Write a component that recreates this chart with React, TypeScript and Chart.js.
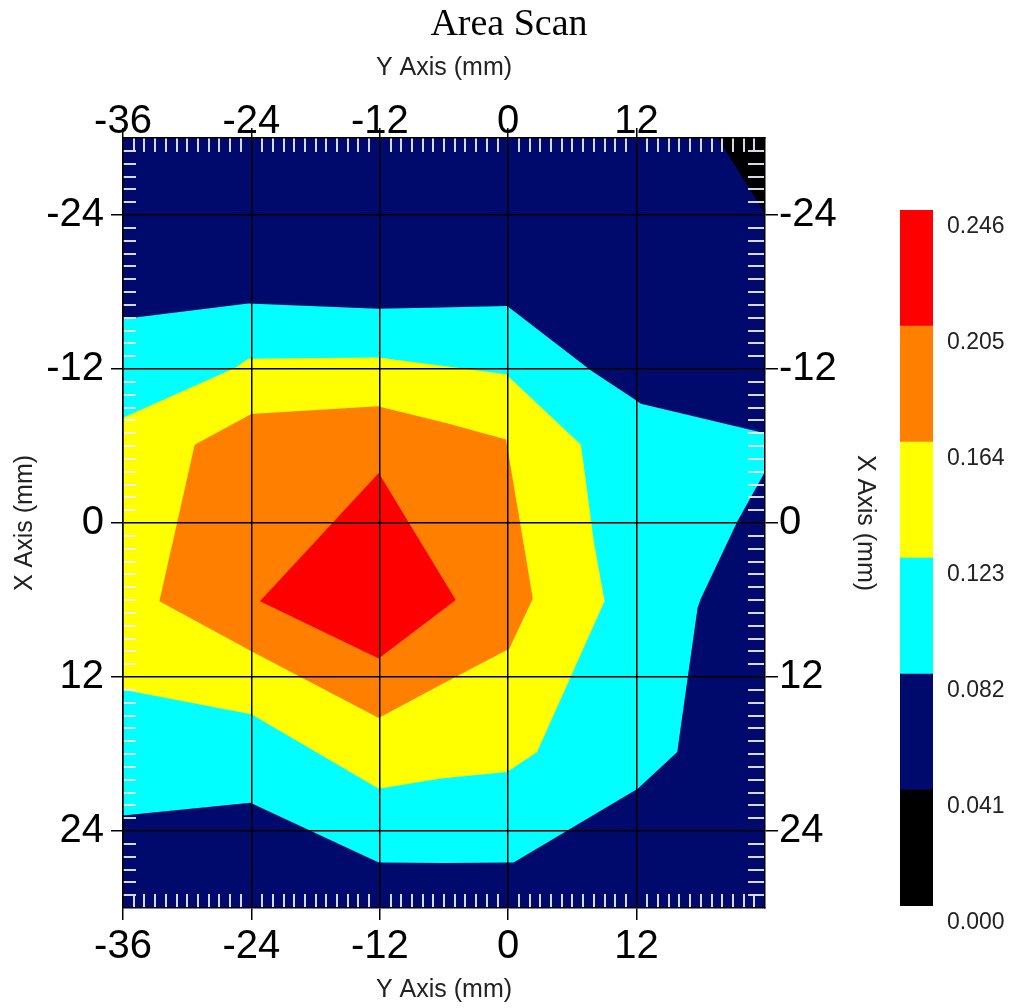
import React, { useEffect, useRef } from 'react';
import { Chart, registerables } from 'chart.js';

Chart.register(...registerables);

// ---- axis ranges & tick labels ----
const xRange = [-36, 24];
const yRange = [-30, 30];
const xTickValues = [-36, -24, -12, 0, 12];
const yTickValues = [-24, -12, 0, 12, 24];

// ---- contour bands (outer boundary of each level region), [Y Axis mm, X Axis mm] ----
const plotFrame: [number, number][] = [[-36, -30], [24, -30], [24, 30], [-36, 30]];
const blackBand: [number, number][] = [[19.6, -30], [24, -30], [24, -24.1]];
const cyanBand: [number, number][] = [
  [-36, -15.9], [-24.3, -17.1], [-12.2, -16.7], [-6.3, -16.8], [-0.1, -16.9],
  [7.7, -11.9], [11.8, -9.65], [12.4, -9.3], [24, -7.0], [24, -4.0],
  [21.4, -0.1], [18.0, 5.9], [17.7, 6.6], [16.8, 11.9], [15.8, 17.85],
  [12.1, 20.7], [0.5, 26.45], [-6, 26.5], [-12.1, 26.45], [-24.1, 21.8], [-36, 22.8],
];
const yellowBand: [number, number][] = [
  [-36, -8.2], [-25.5, -12.1], [-24.3, -12.8], [-12.2, -12.9], [-6.2, -12.25],
  [-0.2, -11.6], [6.8, -6.1], [8.0, 1.4], [9.0, 6.1], [2.7, 17.85],
  [-0.1, 19.4], [-6.3, 19.9], [-12.1, 20.7], [-24, 14.9], [-36, 13.0],
];
const orangeBand: [number, number][] = [
  [-29.3, -6.1], [-24, -8.5], [-12.2, -9.1], [-5.8, -7.8], [-0.2, -6.5],
  [1.4, 1.4], [2.3, 5.9], [0.1, 9.8], [-6.3, 12.6], [-12.1, 15.2],
  [-24, 10.0], [-32.6, 6.1],
];
const redBand: [number, number][] = [[-12.1, -3.9], [-4.9, 6.0], [-12.1, 10.55], [-23.2, 6.1]];

// ---- colour scale ----
const levels = [0.0, 0.041, 0.082, 0.123, 0.164, 0.205, 0.246];
const levelColors = ['#000000', '#000A6C', '#00FFFF', '#FFFF00', '#FF8000', '#FF0000'];

const SANS = "'Liberation Sans', Arial, sans-serif";
const SERIF = "'Liberation Serif', 'Times New Roman', serif";

const minorTicks = {
  id: 'minorTicks',
  afterDatasetsDraw(chart: any) {
    const { ctx, chartArea: a, scales } = chart;
    const xs = scales.x;
    const ys = scales.y;
    ctx.save();
    ctx.strokeStyle = 'rgba(240,240,255,0.9)';
    ctx.lineWidth = 2;
    ctx.beginPath();
    for (let v = xRange[0] + 1; v < xRange[1]; v++) {
      if (v % 12 === 0) continue;
      const px = Math.round(xs.getPixelForValue(v));
      ctx.moveTo(px, a.top);
      ctx.lineTo(px, a.top + 14);
      ctx.moveTo(px, a.bottom);
      ctx.lineTo(px, a.bottom - 14);
    }
    for (let v = yRange[0] + 1; v < yRange[1]; v++) {
      if (v % 12 === 0) continue;
      const py = Math.round(ys.getPixelForValue(v));
      ctx.moveTo(a.left, py);
      ctx.lineTo(a.left + 13, py);
      ctx.moveTo(a.right, py);
      ctx.lineTo(a.right - 17, py);
    }
    ctx.stroke();
    ctx.restore();
  },
};

const band = (pts: [number, number][], color: string, order: number) => ({
  data: pts.map(([x, y]) => ({ x, y })),
  showLine: true,
  fill: 'shape',
  backgroundColor: color,
  borderWidth: 0,
  borderColor: 'rgba(0,0,0,0)',
  pointRadius: 0,
  tension: 0,
  order,
});

const tickFont = { family: SANS, size: 40 };
const axisTitleFont = { family: SANS, size: 25 };

const gridCommon = { color: '#000', lineWidth: 1.5, z: 1, tickColor: '#000', tickWidth: 1.5 };
const borderCommon = { color: '#000', width: 1.5, z: 1 };

export default function App() {
  const mainRef = useRef<HTMLCanvasElement>(null);
  const cbRef = useRef<HTMLCanvasElement>(null);

  useEffect(() => {
    const setX = (s: any) => {
      s.ticks = xTickValues.map((value) => ({ value }));
    };
    const setY = (s: any) => {
      s.ticks = yTickValues.map((value) => ({ value }));
    };
    const main = new Chart(mainRef.current as HTMLCanvasElement, {
      type: 'scatter',
      data: {
        datasets: [
          band(plotFrame, levelColors[1], 6),
          band(blackBand, levelColors[0], 5),
          band(cyanBand, levelColors[2], 4),
          band(yellowBand, levelColors[3], 3),
          band(orangeBand, levelColors[4], 2),
          band(redBand, levelColors[5], 1),
        ] as any,
      },
      options: {
        responsive: false,
        animation: false,
        devicePixelRatio: 1,
        events: [],
        layout: { padding: 0 },
        plugins: {
          legend: { display: false },
          tooltip: { enabled: false },
          title: {
            display: true,
            text: 'Area Scan',
            color: '#000',
            font: { family: SERIF, size: 38, weight: 'normal' },
            padding: { top: 2, bottom: 0 },
          },
        },
        scales: {
          x: {
            type: 'linear',
            position: 'bottom',
            min: xRange[0],
            max: xRange[1],
            afterBuildTicks: setX,
            afterFit: (s: any) => { s.height = 100; },
            grid: { ...gridCommon, tickLength: 12 },
            border: borderCommon,
            ticks: { font: tickFont, color: '#000', padding: 2.5, maxRotation: 0, autoSkip: false, callback: (v: any) => String(v) },
            title: { display: true, text: 'Y Axis (mm)', color: '#222', font: axisTitleFont, padding: { top: 0, bottom: 3 } },
          },
          x2: {
            type: 'linear',
            position: 'top',
            min: xRange[0],
            max: xRange[1],
            afterBuildTicks: setX,
            afterFit: (s: any) => { s.height = 138 - 47.6; },
            grid: { ...gridCommon, drawOnChartArea: false, tickLength: 10 },
            border: borderCommon,
            ticks: { font: tickFont, color: '#000', padding: -17.5, maxRotation: 0, autoSkip: false, callback: (v: any) => String(v) },
            title: { display: true, text: 'Y Axis (mm)', color: '#222', font: axisTitleFont, padding: { top: 5.4, bottom: 0 } },
          },
          y: {
            type: 'linear',
            position: 'left',
            reverse: true,
            min: yRange[0],
            max: yRange[1],
            afterBuildTicks: setY,
            afterFit: (s: any) => { s.width = 123; },
            grid: { ...gridCommon, tickLength: 12 },
            border: borderCommon,
            ticks: { font: tickFont, color: '#000', padding: 7, autoSkip: false, callback: (v: any) => String(v) },
            title: { display: true, text: 'X Axis (mm)', color: '#222', font: axisTitleFont, padding: { top: 10, bottom: 0 } },
          },
          y2: {
            type: 'linear',
            position: 'right',
            reverse: true,
            min: yRange[0],
            max: yRange[1],
            afterBuildTicks: setY,
            afterFit: (s: any) => { s.width = 1018 - 765; },
            grid: { ...gridCommon, drawOnChartArea: false, tickLength: 13 },
            border: borderCommon,
            ticks: { font: tickFont, color: '#000', padding: 1, autoSkip: false, callback: (v: any) => String(v) },
            title: { display: true, text: 'X Axis (mm)', color: '#222', font: axisTitleFont, padding: { top: 138, bottom: 0 } },
          },
        },
      } as any,
      plugins: [minorTicks],
    });

    const cb = new Chart(cbRef.current as HTMLCanvasElement, {
      type: 'bar',
      data: {
        labels: [''],
        datasets: levelColors.map((c, i) => ({
          data: [levels[i + 1] - levels[i]],
          backgroundColor: c,
          borderWidth: 0,
          barPercentage: 1,
          categoryPercentage: 1,
        })),
      },
      options: {
        responsive: false,
        animation: false,
        devicePixelRatio: 1,
        events: [],
        layout: { padding: { left: 20, top: 30, bottom: 54, right: 0 } },
        plugins: { legend: { display: false }, tooltip: { enabled: false }, title: { display: false } },
        scales: {
          x: { display: false, stacked: true },
          y: {
            stacked: true,
            position: 'right',
            min: levels[0],
            max: levels[levels.length - 1],
            afterBuildTicks: (s: any) => { s.ticks = levels.map((value) => ({ value })); },
            afterFit: (s: any) => { s.width = 85; },
            grid: { display: false, drawTicks: false },
            border: { display: false },
            ticks: {
              padding: 14,
              labelOffset: 17,
              autoSkip: false,
              color: '#222',
              font: { family: SANS, size: 23 },
              callback: (v: any) => Number(v).toFixed(3),
            },
          },
        },
      } as any,
    });

    return () => {
      main.destroy();
      cb.destroy();
    };
  }, []);

  return (
    <div style={{ position: 'fixed', left: 0, top: 0, width: 1018, height: 1008, background: '#fff', overflow: 'hidden' }}>
      <canvas ref={mainRef} width={1018} height={1008} style={{ position: 'absolute', left: 0, top: 0, display: 'block' }} />
      <canvas ref={cbRef} width={138} height={780} style={{ position: 'absolute', left: 880, top: 180, display: 'block' }} />
    </div>
  );
}
